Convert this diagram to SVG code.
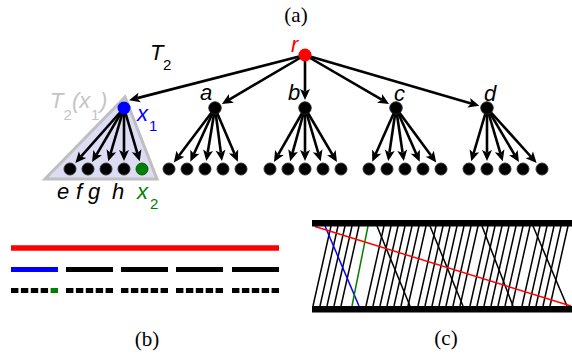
<svg xmlns="http://www.w3.org/2000/svg" width="572" height="358" viewBox="0 0 572 358">
<style>
.lbl{font-family:"Liberation Sans",Arial,sans-serif;font-style:italic;font-size:22px;fill:#000}
.sub{font-family:"Liberation Sans",Arial,sans-serif;font-style:normal;font-size:15px}
.cap{font-family:"Liberation Serif","Times New Roman",serif;font-size:21px;fill:#000;text-anchor:middle}
.e{stroke:#000;stroke-width:2.6;fill:none;marker-end:url(#ah)}
.leaf{fill:#000;stroke:#333;stroke-width:1}
.n1{fill:#000;stroke:#222;stroke-width:1}
.fw{stroke:#000;stroke-width:1.5}
</style>
<defs>
<marker id="ah" markerUnits="userSpaceOnUse" markerWidth="12" markerHeight="12" refX="2.5" refY="0" orient="auto" overflow="visible">
<path d="M11,0 L0,-5 L2.5,0 L0,5 Z" fill="#000"/>
</marker>
</defs>
<rect width="572" height="358" fill="#fff"/>
<text class="cap" x="296" y="22">(a)</text>
<polygon id="subtree" points="125,97 45,179 157,179" fill="#dcdcf4" stroke="#bfbfbf" stroke-width="3" stroke-linejoin="miter"/>
<g id="connectors">
<line class="e" x1="305" y1="55" x2="137.26" y2="98.13"/>
<line class="e" x1="305" y1="55" x2="229.22" y2="99.63"/>
<line class="e" x1="305" y1="55" x2="305" y2="91.5"/>
<line class="e" x1="305" y1="55" x2="381.74" y2="99.7"/>
<line class="e" x1="305" y1="55" x2="471.16" y2="103.39"/>
<line class="e" x1="124" y1="108" x2="80.94" y2="156.65"/>
<line class="e" x1="124" y1="108" x2="96.39" y2="154.79"/>
<line class="e" x1="124" y1="108" x2="110.67" y2="153.17"/>
<line class="e" x1="124" y1="108" x2="124" y2="152.5"/>
<line class="e" x1="124" y1="108" x2="137.33" y2="153.17"/>
<line class="e" x1="215" y1="108" x2="178.93" y2="155.83"/>
<line class="e" x1="215" y1="108" x2="193.88" y2="154"/>
<line class="e" x1="215" y1="108" x2="207.67" y2="152.72"/>
<line class="e" x1="215" y1="108" x2="220.85" y2="152.64"/>
<line class="e" x1="215" y1="108" x2="234.53" y2="153.82"/>
<line class="e" x1="305" y1="108" x2="278.21" y2="154.69"/>
<line class="e" x1="305" y1="108" x2="292.43" y2="153.11"/>
<line class="e" x1="305" y1="108" x2="305" y2="152.5"/>
<line class="e" x1="305" y1="108" x2="318.33" y2="153.17"/>
<line class="e" x1="305" y1="108" x2="332.61" y2="154.79"/>
<line class="e" x1="396" y1="108" x2="375.68" y2="153.91"/>
<line class="e" x1="396" y1="108" x2="389.41" y2="152.68"/>
<line class="e" x1="396" y1="108" x2="402.59" y2="152.68"/>
<line class="e" x1="396" y1="108" x2="416.32" y2="153.91"/>
<line class="e" x1="396" y1="108" x2="431.2" y2="155.72"/>
<line class="e" x1="487" y1="108" x2="473.67" y2="153.17"/>
<line class="e" x1="487" y1="108" x2="487" y2="152.5"/>
<line class="e" x1="487" y1="108" x2="500.33" y2="153.17"/>
<line class="e" x1="487" y1="108" x2="514.61" y2="154.79"/>
<line class="e" x1="487" y1="108" x2="530.95" y2="156.75"/>
</g>
<g id="r"><circle cx="305" cy="55" r="6.5" fill="#f00"/><text class="lbl" x="291" y="52" style="fill:#f00">r</text></g>
<g id="T2"><text class="lbl" x="150" y="60">T</text><text class="sub" x="163" y="70">2</text></g>
<g id="x1"><circle cx="124" cy="108" r="6.5" fill="#00f"/>
<text class="lbl" x="137" y="121" style="fill:#00f">x</text><text class="sub" x="149" y="131" fill="#00f">1</text>
<text class="lbl" x="50" y="108" style="fill:#c4c4c4">T</text><text class="sub" x="63.5" y="120" fill="#c4c4c4">2</text><text class="lbl" x="72" y="108" style="fill:#c4c4c4">(x</text><text class="sub" x="91" y="120" fill="#c4c4c4">1</text><text class="lbl" x="100" y="108" style="fill:#c4c4c4">)</text></g>
<g id="a"><circle class="n1" cx="215" cy="108" r="6.2"/><text class="lbl" x="200" y="100">a</text></g>
<g id="b"><circle class="n1" cx="305" cy="108" r="6.2"/><text class="lbl" x="288" y="100">b</text></g>
<g id="c"><circle class="n1" cx="396" cy="108" r="6.2"/><text class="lbl" x="394" y="101">c</text></g>
<g id="d"><circle class="n1" cx="487" cy="108" r="6.2"/><text class="lbl" x="484" y="101">d</text></g>
<g id="e"><circle class="leaf" cx="70" cy="169" r="6"/><text class="lbl" x="57" y="199">e</text></g>
<g id="f"><circle class="leaf" cx="88" cy="169" r="6"/><text class="lbl" x="76" y="199">f</text></g>
<g id="g"><circle class="leaf" cx="106" cy="169" r="6"/><text class="lbl" x="88" y="199">g</text></g>
<g id="h"><circle class="leaf" cx="124" cy="169" r="6"/><text class="lbl" x="112" y="199">h</text></g>
<g id="x2"><circle cx="142" cy="169" r="6" fill="#008000" stroke="#0a5a0a" stroke-width="1"/><text class="lbl" x="137" y="199" style="fill:#008000">x</text><text class="sub" x="150" y="209" fill="#008000">2</text></g>
<g id="leaves-a"><circle class="leaf" cx="169" cy="169" r="6"/><circle class="leaf" cx="187" cy="169" r="6"/><circle class="leaf" cx="205" cy="169" r="6"/><circle class="leaf" cx="223" cy="169" r="6"/><circle class="leaf" cx="241" cy="169" r="6"/></g>
<g id="leaves-b"><circle class="leaf" cx="270" cy="169" r="6"/><circle class="leaf" cx="288" cy="169" r="6"/><circle class="leaf" cx="305" cy="169" r="6"/><circle class="leaf" cx="323" cy="169" r="6"/><circle class="leaf" cx="341" cy="169" r="6"/></g>
<g id="leaves-c"><circle class="leaf" cx="369" cy="169" r="6"/><circle class="leaf" cx="387" cy="169" r="6"/><circle class="leaf" cx="405" cy="169" r="6"/><circle class="leaf" cx="423" cy="169" r="6"/><circle class="leaf" cx="441" cy="169" r="6"/></g>
<g id="leaves-d"><circle class="leaf" cx="469" cy="169" r="6"/><circle class="leaf" cx="487" cy="169" r="6"/><circle class="leaf" cx="505" cy="169" r="6"/><circle class="leaf" cx="523" cy="169" r="6"/><circle class="leaf" cx="542" cy="169" r="6"/></g>
<g id="panel-b">
<line x1="11" y1="248" x2="279" y2="248" stroke="#f00" stroke-width="5.5"/>
<line x1="11" y1="269.5" x2="58" y2="269.5" stroke="#00f" stroke-width="5"/>
<g stroke="#000" stroke-width="5">
<line x1="66" y1="269.5" x2="113" y2="269.5"/><line x1="121" y1="269.5" x2="168" y2="269.5"/><line x1="176" y1="269.5" x2="223" y2="269.5"/><line x1="232" y1="269.5" x2="279" y2="269.5"/>
</g>
<g stroke="#000" stroke-width="5" stroke-dasharray="7.4 2.5">
<line x1="11" y1="290.5" x2="48.1" y2="290.5"/><line x1="66" y1="290.5" x2="113" y2="290.5"/><line x1="121" y1="290.5" x2="168" y2="290.5"/><line x1="176" y1="290.5" x2="223" y2="290.5"/><line x1="232" y1="290.5" x2="279" y2="290.5"/>
</g>
<line x1="50.6" y1="290.5" x2="58" y2="290.5" stroke="#008000" stroke-width="5"/>
<text class="cap" x="147" y="346">(b)</text>
</g>
<g id="panel-c">
<g class="fw">
<line x1="331" y1="226" x2="313" y2="306"/><line x1="338" y1="226" x2="320" y2="306"/><line x1="345" y1="226" x2="327" y2="306"/><line x1="352" y1="226" x2="334" y2="306"/><line x1="359" y1="226" x2="341" y2="306"/>
<line x1="384" y1="226" x2="366" y2="306"/><line x1="391" y1="226" x2="373" y2="306"/><line x1="398" y1="226" x2="380" y2="306"/><line x1="405" y1="226" x2="387" y2="306"/><line x1="412" y1="226" x2="394" y2="306"/><line x1="419" y1="226" x2="401" y2="306"/><line x1="426" y1="226" x2="408" y2="306"/>
<line x1="436" y1="226" x2="418" y2="306"/><line x1="443" y1="226" x2="425" y2="306"/><line x1="450" y1="226" x2="432" y2="306"/><line x1="457" y1="226" x2="439" y2="306"/><line x1="464" y1="226" x2="446" y2="306"/><line x1="471" y1="226" x2="453" y2="306"/><line x1="478" y1="226" x2="460" y2="306"/>
<line x1="488" y1="226" x2="470" y2="306"/><line x1="495" y1="226" x2="477" y2="306"/><line x1="502" y1="226" x2="484" y2="306"/><line x1="509" y1="226" x2="491" y2="306"/><line x1="516" y1="226" x2="498" y2="306"/><line x1="523" y1="226" x2="505" y2="306"/><line x1="530" y1="226" x2="512" y2="306"/>
<line x1="540" y1="226" x2="522" y2="306"/><line x1="547" y1="226" x2="529" y2="306"/><line x1="554" y1="226" x2="536" y2="306"/><line x1="561" y1="226" x2="543" y2="306"/><line x1="568" y1="226" x2="550" y2="306"/>
<line x1="377" y1="226" x2="410" y2="306"/><line x1="430" y1="226" x2="463" y2="306"/><line x1="482" y1="226" x2="513" y2="306"/><line x1="533" y1="226" x2="567" y2="306"/>
</g>
<line x1="325" y1="226" x2="359" y2="306" stroke="#00f" stroke-width="1.5"/>
<line x1="368" y1="226" x2="352" y2="306" stroke="#008000" stroke-width="1.5"/>
<line x1="315" y1="226.5" x2="571" y2="306" stroke="#f00" stroke-width="1.5"/>
<rect x="312" y="220" width="262" height="6.5" fill="#000"/>
<rect x="312" y="306" width="262" height="6.5" fill="#000"/>
<text class="cap" x="446" y="345">(c)</text>
</g>
</svg>
